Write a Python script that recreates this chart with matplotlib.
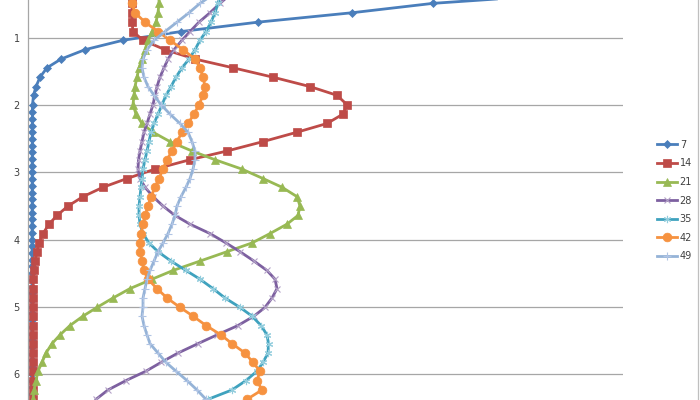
import matplotlib
matplotlib.use("Agg")
import matplotlib.pyplot as plt
from matplotlib.lines import Line2D

# depth grid shared by series 14..49 (first 13 also used by series 7)
depth = [0.35, 0.48, 0.62, 0.76, 0.90, 1.03, 1.17, 1.31, 1.44, 1.58, 1.72, 1.85, 1.99,
         2.13, 2.27, 2.40, 2.54, 2.68, 2.81, 2.95, 3.09, 3.22, 3.36, 3.50, 3.64, 3.77,
         3.91, 4.05, 4.18, 4.32, 4.46, 4.59, 4.73, 4.87, 5.01, 5.14, 5.28, 5.42, 5.55,
         5.69, 5.83, 5.96, 6.10, 6.24, 6.38]

depth_7 = depth[:13] + [2.1, 2.2, 2.3, 2.4, 2.5, 2.6, 2.7, 2.8, 2.9, 3.0, 3.1, 3.2, 3.3,
                        3.4, 3.5, 3.6, 3.7, 3.8, 3.9, 4.0, 4.1, 4.2, 4.3, 4.4, 4.5, 4.6,
                        4.7, 4.8, 4.9, 5.0, 5.1, 5.2, 5.3, 5.4, 5.5, 5.6, 5.7, 5.8, 5.9,
                        6.0, 6.1, 6.2, 6.3, 6.4]
s7 = [53.2, 40.5, 32.4, 23.0, 15.3, 9.5, 5.7, 3.3, 1.9, 1.2, 0.8, 0.55, 0.45,
      0.44, 0.44, 0.43, 0.43, 0.43, 0.43, 0.43, 0.42, 0.42, 0.42, 0.42, 0.42, 0.42,
      0.42, 0.42, 0.41, 0.41, 0.41, 0.41, 0.41, 0.41, 0.41, 0.41, 0.41, 0.41, 0.40,
      0.40, 0.40, 0.40, 0.40, 0.40, 0.40, 0.40, 0.40, 0.40, 0.40, 0.40, 0.40, 0.40,
      0.40, 0.40, 0.40, 0.40, 0.40]
s14 = [10.4, 10.4, 10.4, 10.4, 10.5, 11.5, 13.7, 16.7, 20.5, 24.5, 28.2, 30.9, 31.9,
       31.5, 29.9, 26.9, 23.5, 19.9, 16.2, 12.7, 9.9, 7.5, 5.5, 4.0, 2.9, 2.1, 1.5,
       1.1, 0.9, 0.7, 0.6, 0.53, 0.52, 0.51, 0.50, 0.50, 0.49, 0.49, 0.48, 0.48, 0.47,
       0.47, 0.46, 0.46, 0.46]
s21 = [13.1, 13.1, 13.0, 12.8, 12.4, 12.0, 11.7, 11.4, 11.1, 10.9, 10.7, 10.6, 10.5,
       10.8, 11.4, 12.5, 14.2, 16.4, 18.7, 21.4, 23.5, 25.4, 26.9, 27.2, 27.0, 25.9,
       24.2, 22.4, 19.9, 17.2, 14.5, 12.4, 10.2, 8.5, 6.9, 5.5, 4.2, 3.2, 2.4, 1.8,
       1.4, 1.0, 0.8, 0.6, 0.5]
s28 = [20.2, 19.2, 18.2, 17.1, 16.2, 15.4, 14.6, 14.0, 13.6, 13.2, 12.9, 12.7, 12.5,
       12.2, 11.9, 11.6, 11.4, 11.2, 11.05, 11.0, 11.2, 11.7, 12.5, 13.5, 14.7, 16.2,
       18.2, 19.8, 21.2, 22.6, 23.9, 24.7, 24.9, 24.4, 23.7, 22.6, 21.0, 18.9, 17.0,
       15.0, 13.3, 11.8, 9.8, 8.0, 6.8]
s35 = [19.3, 19.0, 18.7, 18.3, 17.8, 17.2, 16.7, 16.1, 15.4, 14.8, 14.3, 13.8, 13.4,
       13.0, 12.6, 12.3, 12.1, 11.9, 11.7, 11.5, 11.4, 11.3, 11.2, 11.1, 11.1, 11.2,
       11.5, 12.1, 13.0, 14.3, 15.8, 17.2, 18.5, 19.7, 21.2, 22.4, 23.3, 23.9, 24.05,
       24.0, 23.5, 22.9, 21.8, 20.4, 18.0]
s42 = [10.3, 10.4, 10.7, 11.7, 13.0, 14.2, 15.5, 16.7, 17.2, 17.5, 17.7, 17.5, 17.1,
       16.6, 16.0, 15.4, 14.9, 14.4, 13.9, 13.5, 13.1, 12.7, 12.3, 12.0, 11.7, 11.5,
       11.3, 11.2, 11.2, 11.4, 11.6, 12.0, 12.9, 13.9, 15.2, 16.5, 17.8, 19.3, 20.4,
       21.7, 22.5, 23.2, 22.9, 23.4, 21.9]
s49 = [18.5, 17.2, 16.1, 14.9, 13.7, 12.6, 11.9, 11.5, 11.4, 11.6, 12.0, 12.6, 13.3,
       14.2, 15.2, 16.0, 16.4, 16.7, 16.7, 16.5, 16.2, 15.8, 15.3, 14.9, 14.7, 14.4,
       14.0, 13.5, 13.0, 12.6, 12.2, 11.9, 11.7, 11.5, 11.5, 11.4, 11.6, 11.9, 12.2,
       13.0, 13.8, 14.8, 15.9, 16.9, 17.8]

labels = ["7", "14", "21", "28", "35", "42", "49"]
series = [(depth_7, s7), (depth, s14), (depth, s21), (depth, s28),
          (depth, s35), (depth, s42), (depth, s49)]

# style per series: line colour, marker, size, marker face, marker edge, edge width
styles = [
    ("#4A7EBB", "D", 3.8, "#4A7EBB", "#4A7EBB", 0.5),
    ("#BE4B48", "s", 5.6, "#BE4B48", "#BE4B48", 0.5),
    ("#98B954", "^", 6.2, "#98B954", "#98B954", 0.5),
    ("#7D60A0", "x", 4.8, "none", "#B3A2C7", 0.8),
    ("#3FA2BE", (6, 2, 0), 5.2, "none", "#93CDDD", 0.8),
    ("#F69240", "o", 6.3, "#F69240", "#F69240", 0.5),
    ("#95B3D7", "+", 6.0, "none", "#B0C4E4", 0.8),
]

fig = plt.figure(figsize=(7, 4), dpi=100)
ax = fig.add_axes([28 / 700, 0, 595 / 700, 1])

for (d, v), lab, (c, m, ms, mfc, mec, mew) in zip(series, labels, styles):
    ax.plot(v, d, color=c, lw=2.0, marker=m, ms=ms, mfc=mfc, mec=mec, mew=mew,
            label=lab, solid_joinstyle="round")

ax.set_xlim(0, 59.5)
ax.set_ylim(6.39, 0.43)
ax.set_yticks([1, 2, 3, 4, 5, 6])
ax.set_xticks([])
ax.yaxis.grid(True, color="#A6A6A6", lw=0.9)
ax.set_axisbelow(True)
for side in ["top", "right", "bottom"]:
    ax.spines[side].set_visible(False)
ax.spines["left"].set_color("#A6A6A6")
ax.spines["left"].set_linewidth(0.9)
ax.tick_params(axis="y", length=0, pad=6, labelsize=7, labelcolor="#404040")

fig.legend(loc="upper left", bbox_to_anchor=(652 / 700, 1 - 135 / 400),
           frameon=False, fontsize=7, handlelength=2.1, handletextpad=0.25,
           labelspacing=0.88, borderpad=0, labelcolor="#404040")

# chart-area border on the right
fig.add_artist(Line2D([697.5 / 700, 697.5 / 700], [0, 1], color="#BFBFBF", lw=0.9))

fig.savefig("out.png", dpi=100)
